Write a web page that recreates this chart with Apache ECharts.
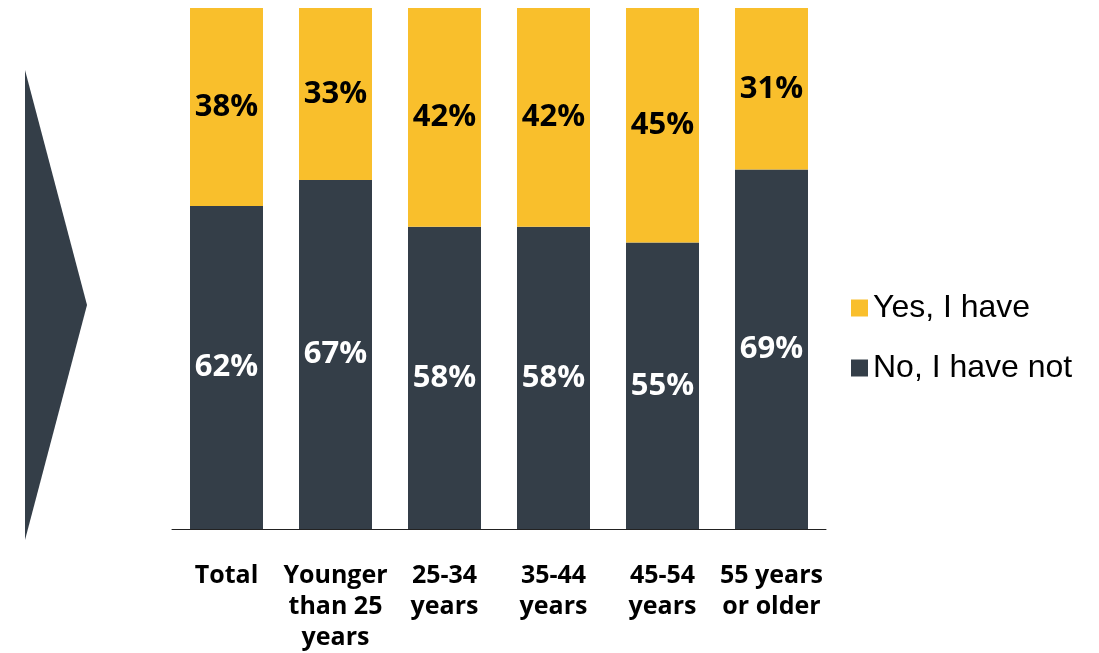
<!DOCTYPE html>
<html>
<head>
<meta charset="utf-8">
<script src="https://cdn.jsdelivr.net/npm/echarts@6/dist/echarts.min.js"></script>
<style>
  html, body { margin: 0; padding: 0; background: #fff; }
  #chart { width: 1099px; height: 653px; }
</style>
</head>
<body>
<div id="chart"></div>
<script>
// Age groups shown along the bottom axis
const categories = ['Total', 'Younger\nthan 25\nyears', '25-34\nyears', '35-44\nyears', '45-54\nyears', '55 years\nor older'];
// Share of respondents (%) per answer
const noValues = [62, 67, 58, 58, 55, 69];
const yesValues = [38, 33, 42, 42, 45, 31];
const seriesNames = ['No, I have not', 'Yes, I have'];

const DARK = '#343e48';
const YELLOW = '#f9bf2c';
const valueFont = '"Open Sans", "Noto Sans", sans-serif';

const chart = echarts.init(document.getElementById('chart'));
chart.setOption({
  animation: false,
  backgroundColor: '#ffffff',
  grid: { left: 172, width: 654, top: 8, bottom: 124, containLabel: false },
  legend: {
    orient: 'vertical',
    left: 846,
    top: 287,
    itemWidth: 17,
    itemHeight: 17,
    itemGap: 28,
    icon: 'rect',
    data: [seriesNames[1], seriesNames[0]],
    textStyle: { fontFamily: '"Liberation Sans", Arial, sans-serif', fontSize: 32, color: '#000' }
  },
  xAxis: {
    type: 'category',
    data: categories,
    axisLine: { show: true, lineStyle: { color: '#222', width: 1 } },
    axisTick: { show: false },
    axisLabel: {
      interval: 0,
      margin: 31,
      fontFamily: valueFont,
      fontWeight: 'bold',
      fontSize: 25,
      lineHeight: 31,
      color: '#000'
    }
  },
  yAxis: {
    type: 'value',
    min: 0,
    max: 100,
    show: false,
    splitLine: { show: false }
  },
  series: [
    {
      name: seriesNames[0],
      type: 'bar',
      stack: 'total',
      barWidth: 73,
      data: noValues,
      itemStyle: { color: DARK },
      label: {
        show: true,
        position: 'inside',
        formatter: '{c}%',
        color: '#ffffff',
        fontFamily: valueFont,
        fontWeight: 'bold',
        fontSize: 31
      }
    },
    {
      name: seriesNames[1],
      type: 'bar',
      stack: 'total',
      barWidth: 73,
      data: yesValues,
      itemStyle: { color: YELLOW },
      label: {
        show: true,
        position: 'inside',
        formatter: '{c}%',
        color: '#000000',
        fontFamily: valueFont,
        fontWeight: 'bold',
        fontSize: 31
      }
    }
  ],
  graphic: [
    {
      // Decorative pointer on the left edge
      type: 'polygon',
      shape: { points: [[25, 70], [87, 305], [25, 540]] },
      style: { fill: DARK }
    }
  ]
});
</script>
</body>
</html>
